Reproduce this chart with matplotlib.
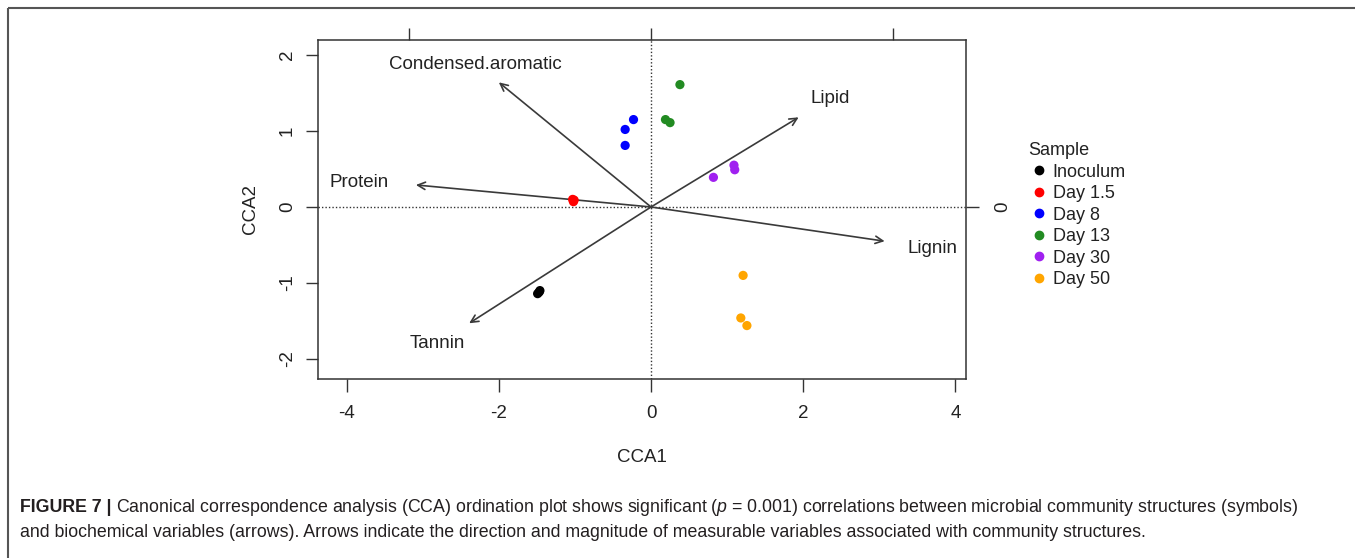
"""
CCA ordination biplot (samples + biochemical variable arrows), FIGURE 7 style
"""
import numpy as np
import matplotlib
matplotlib.use("Agg")
import matplotlib.pyplot as plt
from matplotlib.lines import Line2D

plt.rcParams['font.family'] = ['Liberation Sans', 'DejaVu Sans']
plt.rcParams['mathtext.fontset'] = 'custom'
plt.rcParams['mathtext.it'] = 'Liberation Sans:italic'
plt.rcParams['mathtext.rm'] = 'Liberation Sans'
plt.rcParams['axes.unicode_minus'] = False

# sample scores (CCA1, CCA2), three replicates per group
groups = ['Inoculum', 'Day 1.5', 'Day 8', 'Day 13', 'Day 30', 'Day 50']
group_colors = ['black', 'red', 'blue', 'forestgreen', '#A020F0', 'orange']
cca1 = {
    'Inoculum': [-1.46, -1.49, -1.47],
    'Day 1.5': [-1.03, -1.02, -1.01],
    'Day 8': [-0.23, -0.34, -0.34],
    'Day 13': [0.38, 0.19, 0.25],
    'Day 30': [0.82, 1.09, 1.10],
    'Day 50': [1.21, 1.18, 1.26],
}
cca2 = {
    'Inoculum': [-1.10, -1.14, -1.12],
    'Day 1.5': [0.10, 0.07, 0.09],
    'Day 8': [1.15, 1.02, 0.81],
    'Day 13': [1.61, 1.15, 1.11],
    'Day 30': [0.39, 0.55, 0.49],
    'Day 50': [-0.90, -1.46, -1.56],
}

# biplot arrows (tips in plot units) and where their labels sit
variables = ['Condensed.aromatic', 'Lipid', 'Protein', 'Lignin', 'Tannin']
arrow_x = [-2.00, 1.94, -3.09, 3.07, -2.39]
arrow_y = [1.64, 1.18, 0.29, -0.45, -1.53]
label_x = [-2.31, 2.35, -3.84, 3.70, -2.81]
label_y = [1.87, 1.43, 0.32, -0.55, -1.80]
arrow_mul = 3.18  # scaling of biplot axis (top / right)

W, H = 1355, 558
txt = 13.5
ink = '#222222'
fig = plt.figure(figsize=(W / 100, H / 100), dpi=100)

# outer frame (top and left edge only, rest cropped)
frame = fig.add_axes([0, 0, 1, 1])
frame.set_xlim(0, W)
frame.set_ylim(H, 0)
frame.axis('off')
frame.plot([8, W], [8, 8], color='#555555', lw=1.5, solid_capstyle='butt')
frame.plot([8, 8], [8, H], color='#555555', lw=1.5, solid_capstyle='butt')

# main axes
ax = fig.add_axes([318 / W, 1 - 379 / H, (966 - 318) / W, (379 - 40) / H])
ax.set_xlim(-4.376, 4.139)
ax.set_ylim(-2.263, 2.197)

ax.axhline(0, color='#333333', lw=1, ls=(0, (1.0, 1.5)), zorder=1)
ax.axvline(0, color='#333333', lw=1, ls=(0, (1.0, 1.5)), zorder=1)

for v, ex, ey, lx, ly in zip(variables, arrow_x, arrow_y, label_x, label_y):
    ax.annotate('', xy=(ex, ey), xytext=(0, 0),
                arrowprops=dict(arrowstyle='->,head_length=0.45,head_width=0.22',
                                color='#3a3a3a', lw=1.2, shrinkA=0, shrinkB=0,
                                mutation_scale=12), zorder=2)
    ax.text(lx, ly, v, ha='center', va='center', fontsize=txt, color=ink)

for g, c in zip(groups, group_colors):
    ax.scatter(cca1[g], cca2[g], s=44, color=c, edgecolors='none', zorder=3)

for s in ax.spines.values():
    s.set_color('#333333')
    s.set_linewidth(1.1)

ax.set_xticks([-4, -2, 0, 2, 4])
ax.set_yticks([-2, -1, 0, 1, 2])
ax.tick_params(axis='both', direction='out', length=9, width=1, color='#333333',
               labelsize=txt, labelcolor=ink)
ax.tick_params(axis='x', pad=10)
ax.tick_params(axis='y', pad=7)
for lab in ax.get_yticklabels():
    lab.set_rotation(90)
    lab.set_va('center')

ax.set_xlabel('CCA1', fontsize=txt, color=ink, labelpad=19)
ax.set_ylabel('CCA2', fontsize=txt, color=ink, labelpad=14)

# biplot scale axes on top and right
top = ax.twiny()
top.set_xlim(ax.get_xlim())
top.set_xticks(np.array([-1, 0, 1]) * arrow_mul)
top.set_xticklabels([])
top.tick_params(axis='x', direction='out', length=9, width=1, color='#333333')

right = ax.twinx()
right.set_ylim(ax.get_ylim())
right.set_yticks(np.array([-1, 0, 1]) * arrow_mul)
right.set_yticklabels(['-1', '0', '1'], rotation=90, va='center')
right.tick_params(axis='y', direction='out', length=9, width=1, color='#333333',
                  labelsize=txt, labelcolor=ink, pad=11)
right.set_ylim(ax.get_ylim())
for a in (top, right):
    for s in a.spines.values():
        s.set_visible(False)

# legend
handles = [Line2D([], [], marker='o', ls='none', color=c, markersize=6)
           for c in group_colors]
leg = fig.legend(handles, groups, title='Sample', loc='upper left',
                 bbox_to_anchor=(1021 / W, 1 - 135 / H), frameon=False,
                 fontsize=13, title_fontsize=13, handlelength=1.2,
                 handletextpad=0.15, labelspacing=0.25, borderaxespad=0)
leg._legend_box.align = 'left'
for t in leg.get_texts():
    t.set_color(ink)
leg.get_title().set_color(ink)

# caption
fig.canvas.draw()
r = fig.canvas.get_renderer()
cap_size = 12.8
t1 = frame.text(20, 512, 'FIGURE 7 | ', fontsize=cap_size, fontweight='bold',
                color='#231f20', va='baseline', ha='left')
w1 = t1.get_window_extent(renderer=r).width
frame.text(20 + w1, 512,
           'Canonical correspondence analysis (CCA) ordination plot shows significant '
           '($p$ = 0.001) correlations between microbial community structures (symbols)',
           fontsize=cap_size, color='#231f20', va='baseline', ha='left')
frame.text(20, 537,
           'and biochemical variables (arrows). Arrows indicate the direction and magnitude '
           'of measurable variables associated with community structures.',
           fontsize=cap_size, color='#231f20', va='baseline', ha='left')

fig.savefig('out.png', dpi=100)
